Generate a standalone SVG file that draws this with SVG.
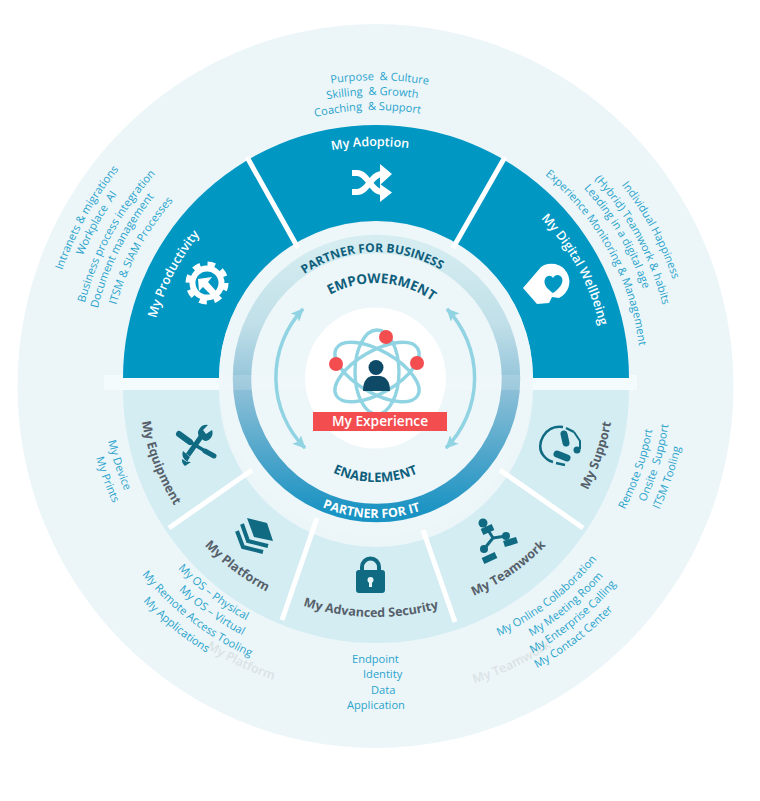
<svg xmlns="http://www.w3.org/2000/svg" width="760" height="801" viewBox="0 0 760 801">
<style>
text{font-family:"Open Sans","Noto Sans","Liberation Sans",sans-serif}
.l{font-size:11.1px;fill:#2aa3cc;text-anchor:middle}
.la{font-size:11.1px;fill:#2aa3cc}
.w{font-size:12.6px;font-weight:600;fill:#fff;text-anchor:middle}
.g{font-size:12.5px;font-weight:700;fill:#56606a;text-anchor:middle}
.gh{font-size:12.5px;font-weight:600;fill:#dbe2e5;text-anchor:middle}
.d{font-weight:700;fill:#0f5f7c;text-anchor:middle}
.ic{fill:#0f6a82}
.is{fill:none;stroke:#0f6a82}
.div{stroke:#fff;stroke-width:5;fill:none}
.arr{fill:none;stroke:#90d3e2;stroke-width:3.5}
.orb{fill:none;stroke:#90d3e2;stroke-width:3.4}
</style>
<defs>
<linearGradient id="rg" x1="0" y1="0" x2="0" y2="1">
<stop offset="0" stop-color="#d5edf1"/><stop offset=".3" stop-color="#c0dfe8"/><stop offset=".55" stop-color="#8bbfd7"/><stop offset=".8" stop-color="#4ba4ca"/><stop offset="1" stop-color="#1993c3"/>
</linearGradient>
<marker id="ah" viewBox="0 0 13 12" refX="12" refY="6" markerWidth="13" markerHeight="12" markerUnits="userSpaceOnUse" orient="auto-start-reverse"><path d="M0,0L13,6L0,12L3,6z" fill="#90d3e2"/></marker>
<path id="u127" d="M249,379A127,127 0 0 1 503,379"/>
<path id="u96" d="M280,379A96,96 0 0 1 472,379"/>
<path id="u233" d="M143,379A233,233 0 0 1 609,379"/>
<path id="u228" d="M148,379A228,228 0 0 1 604,379"/>
<path id="u230" d="M146,379A230,230 0 0 1 606,379"/>
<path id="u299" d="M77,379A299,299 0 0 1 675,379"/>
<path id="u284" d="M92,379A284,284 0 0 1 660,379"/>
<path id="u269" d="M107,379A269,269 0 0 1 645,379"/>
<path id="u332" d="M44,379A332,332 0 0 1 708,379"/>
<path id="u318" d="M58,379A318,318 0 0 1 694,379"/>
<path id="u301" d="M75,379A301,301 0 0 1 677,379"/>
<path id="u287" d="M89,379A287,287 0 0 1 663,379"/>
<path id="u270" d="M106,379A270,270 0 0 1 646,379"/>
<path id="u313" d="M63,379A313,313 0 0 1 689,379"/>
<path id="u296" d="M80,379A296,296 0 0 1 672,379"/>
<path id="u282" d="M94,379A282,282 0 0 1 658,379"/>
<path id="u265" d="M111,379A265,265 0 0 1 641,379"/>
<path id="d103" d="M273,379A103,103 0 0 0 479,379"/>
<path id="d139" d="M237,379A139,139 0 0 0 515,379"/>
<path id="d239" d="M137,379A239,239 0 0 0 615,379"/>
<path id="d238" d="M138,379A238,238 0 0 0 614,379"/>
<path id="d318" d="M58,379A318,318 0 0 0 694,379"/>
<path id="d320" d="M56,379A320,320 0 0 0 696,379"/>
<path id="d275" d="M101,379A275,275 0 0 0 651,379"/>
<path id="d291" d="M85,379A291,291 0 0 0 667,379"/>
<path id="d274" d="M102,379A274,274 0 0 0 650,379"/>
<path id="d289" d="M87,379A289,289 0 0 0 665,379"/>
<path id="d305" d="M71,379A305,305 0 0 0 681,379"/>
<path id="d322" d="M54,379A322,322 0 0 0 698,379"/>
<path id="d285" d="M91,379A285,285 0 0 0 661,379"/>
<path id="d301" d="M75,379A301,301 0 0 0 677,379"/>
<path id="d316" d="M60,379A316,316 0 0 0 692,379"/>
<path id="d331" d="M45,379A331,331 0 0 0 707,379"/>
<path id="d281" d="M95,379A281,281 0 0 0 657,379"/>
<path id="d296" d="M80,379A296,296 0 0 0 672,379"/>
<path id="d312" d="M64,379A312,312 0 0 0 688,379"/>
</defs>
<rect width="760" height="801" fill="#fff"/>
<ellipse id="outer-disc" cx="375.500" cy="386" rx="358" ry="362" fill="#ecf6f9"/>
<rect x="104" y="375" width="533" height="15" fill="#f4fbfd"/>
<g id="lower-band"><path d="M123,390A253,253 0 0 0 629,390H533A157,157 0 0 1 219,390z" fill="#d4edf3"/></g>
<g id="upper-band"><path d="M123,378A253,253 0 0 1 629,378H533A157,157 0 0 0 219,378z" fill="#0097c3"/></g>
<circle id="inner-disc" cx="376" cy="379" r="157" fill="#edf6f9"/>
<circle id="gradient-ring" cx="376.500" cy="378.500" r="134.500" fill="none" stroke="url(#rg)" stroke-width="18.500"/>
<rect x="220" y="375" width="313" height="15" fill="#fff" opacity=".15"/>
<g id="dividers">
<path class="div" d="M247,157L298,248M505,157L453,248M252,470L169,528M317,518L282,620M423,530L455,622M500,470L583,528"/>
</g>
<g id="my-adoption">
<text class="w"><textPath href="#u233" startOffset="49.200%">My Adoption</textPath></text>
<g fill="#fff"><path d="M352,173h5c11,0 14,19 25,19M352,192h5c11,0 14,-18 25,-18" fill="none" stroke="#fff" stroke-width="6"/><path d="M380,164L392,174L380,185zM380,184L392,192.500L380,202z"/></g>
</g>
<g id="my-productivity">
<text class="w"><textPath href="#u228" startOffset="15.200%">My Productivity</textPath></text>
<circle cx="207" cy="283" r="14.500" fill="none" stroke="#fff" stroke-width="6"/>
<circle cx="207" cy="283" r="19" fill="none" stroke="#fff" stroke-width="5" stroke-dasharray="7.500 7.420"/>
<path d="M198,279L212,277L208,282L216,291L211,295L203,287L199,291z" fill="#fff"/>
</g>
<g id="my-digital-wellbeing">
<text class="w"><textPath href="#u230" startOffset="84%">My Digital Wellbeing</textPath></text>
<path d="M541,267A18,18 0 1 1 559,298L552,297L549,303L537,304L523,288z" fill="#fff"/>
<path d="M553,293C547,289 543,284 545,279C547,275 551,275 553,278C555,274 560,274 562,278C564,283 559,289 553,293z" fill="#0097c3"/>
</g>
<g id="my-equipment">
<text class="g"><textPath href="#d238" startOffset="11.800%">My Equipment</textPath></text>
<path class="is" stroke-width="5" d="M203,434L188,455"/>
<path class="ic" d="M200,428A8,8 0 0 0 200,438L205,441A8,8 0 0 0 212,430L206,434L203,430L208,425A8,8 0 0 0 200,428zM183,451A8,8 0 0 0 191,462L185,466A8,8 0 0 1 182,459L187,462L190,457z"/>
<path class="is" stroke-width="6" stroke-linecap="round" d="M179,434L190,442"/>
<path class="is" stroke-width="3.500" d="M190,442L205,451"/>
<path class="is" stroke-width="5" stroke-linecap="round" d="M205,451L214,456"/>
</g>
<g id="my-platform">
<text class="g"><textPath href="#d239" startOffset="29.700%">My Platform</textPath></text>
<path class="ic" d="M247,518L267,523L273,541L254,537z"/>
<path class="is" stroke-width="4" d="M242,524L248,541L268,546"/>
<path class="is" stroke-width="4" d="M237,531L243,547L263,552"/>
</g>
<g id="my-advanced-security">
<text class="g"><textPath href="#d238" startOffset="49.300%">My Advanced Security</textPath></text>
<rect class="ic" x="356" y="570" width="29" height="23" rx="3"/>
<path class="is" stroke-width="4" d="M362,571V567A8.500,8.500 0 0 1 379,567V571"/>
<circle cx="370.500" cy="580" r="3" fill="#e8f6f8"/><rect x="369" y="580" width="3" height="7" fill="#e8f6f8"/>
</g>
<g id="my-teamwork">
<text class="g"><textPath href="#d238" startOffset="69.400%">My Teamwork</textPath></text>
<circle class="ic" cx="483" cy="523" r="4.500"/><circle class="ic" cx="506" cy="536" r="4"/><circle class="ic" cx="484" cy="549" r="4"/>
<path class="is" stroke-width="3" d="M493,538L484,549M493,538L506,536M493,538L488,530"/>
<path class="is" stroke-width="6.500" d="M482,532L493,527M504,544L517,540M483,561L496,555"/>
</g>
<g id="my-support">
<text class="g"><textPath href="#d239" startOffset="89.400%">My Support</textPath></text>
<path class="is" stroke-width="2.500" d="M563,427C545,424 535,445 543,455C546,459 549,461 553,462"/>
<path class="is" stroke-width="2.500" d="M566,428L574,432M556,463L565,465"/>
<path class="is" stroke-width="7" stroke-linecap="round" d="M564,434L566,443M557,454L567,458"/>
<path class="is" stroke-width="2" d="M574,432L580,441V449"/>
<circle class="ic" cx="577" cy="450" r="3.500"/>
</g>
<g id="center">
<circle cx="375.500" cy="378" r="70.500" fill="#fff"/>
<ellipse class="orb" cx="377" cy="372" rx="47" ry="21" transform="rotate(30 377 372)"/>
<ellipse class="orb" cx="377" cy="372" rx="47" ry="21" transform="rotate(-30 377 372)"/>
<ellipse class="orb" cx="377" cy="372" rx="42" ry="22" transform="rotate(90 377 372)"/>
<circle cx="386" cy="337" r="7" fill="#f34d50"/><circle cx="336" cy="364" r="7" fill="#f34d50"/><circle cx="417" cy="363" r="7" fill="#f34d50"/>
<circle cx="376" cy="367.500" r="7.500" fill="#0e4a66"/>
<path d="M363,391C363,381 367,377 372,376H380C386,377 390,381 390,391z" fill="#0e4a66"/>
<rect x="313" y="412" width="134" height="19" fill="#f34d50"/>
<text x="380" y="426" font-size="13.700" font-weight="600" fill="#fff" text-anchor="middle">My Experience</text>
</g>
<g id="ring-labels">
<text class="d" font-size="12.100"><textPath href="#u127" startOffset="49%">PARTNER FOR BUSINESS</textPath></text>
<text class="d" font-size="13.500"><textPath href="#u96" startOffset="52%">EMPOWERMENT</textPath></text>
<text class="d" font-size="13"><textPath href="#d103" startOffset="49.800%">ENABLEMENT</textPath></text>
<text font-size="12.500" font-weight="700" fill="#fff" text-anchor="middle"><textPath href="#d139" startOffset="48.900%">PARTNER FOR IT</textPath></text>
</g>
<g id="connectors">
<path class="arr" d="M303,309A100,100 0 0 0 305,448" marker-start="url(#ah)" marker-end="url(#ah)"/>
<path class="arr" d="M447,309A100,100 0 0 1 446,448" marker-start="url(#ah)" marker-end="url(#ah)"/>
</g>
<g id="ghost-labels">
<text class="gh"><textPath href="#d318" startOffset="35.800%">My Platform</textPath></text>
<text class="gh"><textPath href="#d320" startOffset="64.200%">My Teamwork</textPath></text>
</g>
<g id="adoption-list">
<text class="l"><textPath href="#u299" startOffset="50.400%">Purpose&#160; &amp; Culture</textPath></text>
<text class="l"><textPath href="#u284" startOffset="49.600%">Skilling&#160; &amp; Growth</textPath></text>
<text class="l"><textPath href="#u269" startOffset="49%">Coaching&#160; &amp; Support</textPath></text>
</g>
<g id="productivity-list">
<text class="l"><textPath href="#u332" startOffset="16.200%">Intranets &amp; migrations</textPath></text>
<text class="l"><textPath href="#u318" startOffset="16.200%">Workplace&#160; AI</textPath></text>
<text class="l"><textPath href="#u301" startOffset="16%">Business process integration</textPath></text>
<text class="l"><textPath href="#u287" startOffset="14.900%">Document management</textPath></text>
<text class="l"><textPath href="#u270" startOffset="15.900%">ITSM &amp; SIAM Processes</textPath></text>
</g>
<g id="wellbeing-list">
<text class="l"><textPath href="#u313" startOffset="84.200%">Individual Happiness</textPath></text>
<text class="l"><textPath href="#u296" startOffset="84.200%">(Hybrid) Teamwork &amp; habits</textPath></text>
<text class="l"><textPath href="#u282" startOffset="83%">Leading in a digital age</textPath></text>
<text class="l"><textPath href="#u265" startOffset="84%">Experience Monitoring &amp; Management</textPath></text>
</g>
<g id="equipment-list">
<text class="l"><textPath href="#d275" startOffset="10.300%">My Device</textPath></text>
<text class="l"><textPath href="#d291" startOffset="11.400%">My Prints</textPath></text>
</g>
<g id="platform-list">
<text class="l"><textPath href="#d274" startOffset="29.300%">My OS – Physical</textPath></text>
<text class="l"><textPath href="#d289" startOffset="30.400%">My OS – Virtual</textPath></text>
<text class="l"><textPath href="#d305" startOffset="29.300%">My Remote Access Tooling</textPath></text>
<text class="l"><textPath href="#d322" startOffset="28.300%">My Applications</textPath></text>
</g>
<g id="security-list">
<text class="la" x="352" y="663">Endpoint</text>
<text class="la" x="363" y="678">Identity</text>
<text class="la" x="371" y="694">Data</text>
<text class="la" x="347" y="709">Application</text>
</g>
<g id="teamwork-list">
<text class="l"><textPath href="#d285" startOffset="71.200%">My Online Collaboration</textPath></text>
<text class="l"><textPath href="#d301" startOffset="72.300%">My Meeting Room</textPath></text>
<text class="l"><textPath href="#d316" startOffset="72%">My Enterprise Calling</textPath></text>
<text class="l"><textPath href="#d331" startOffset="70.800%">My Contact Center</textPath></text>
</g>
<g id="support-list">
<text class="l"><textPath href="#d281" startOffset="89.400%">Remote Support</textPath></text>
<text class="l"><textPath href="#d296" startOffset="90.700%">Onsite&#160; Support</textPath></text>
<text class="l"><textPath href="#d312" startOffset="89.600%">ITSM Tooling</textPath></text>
</g>
</svg>
